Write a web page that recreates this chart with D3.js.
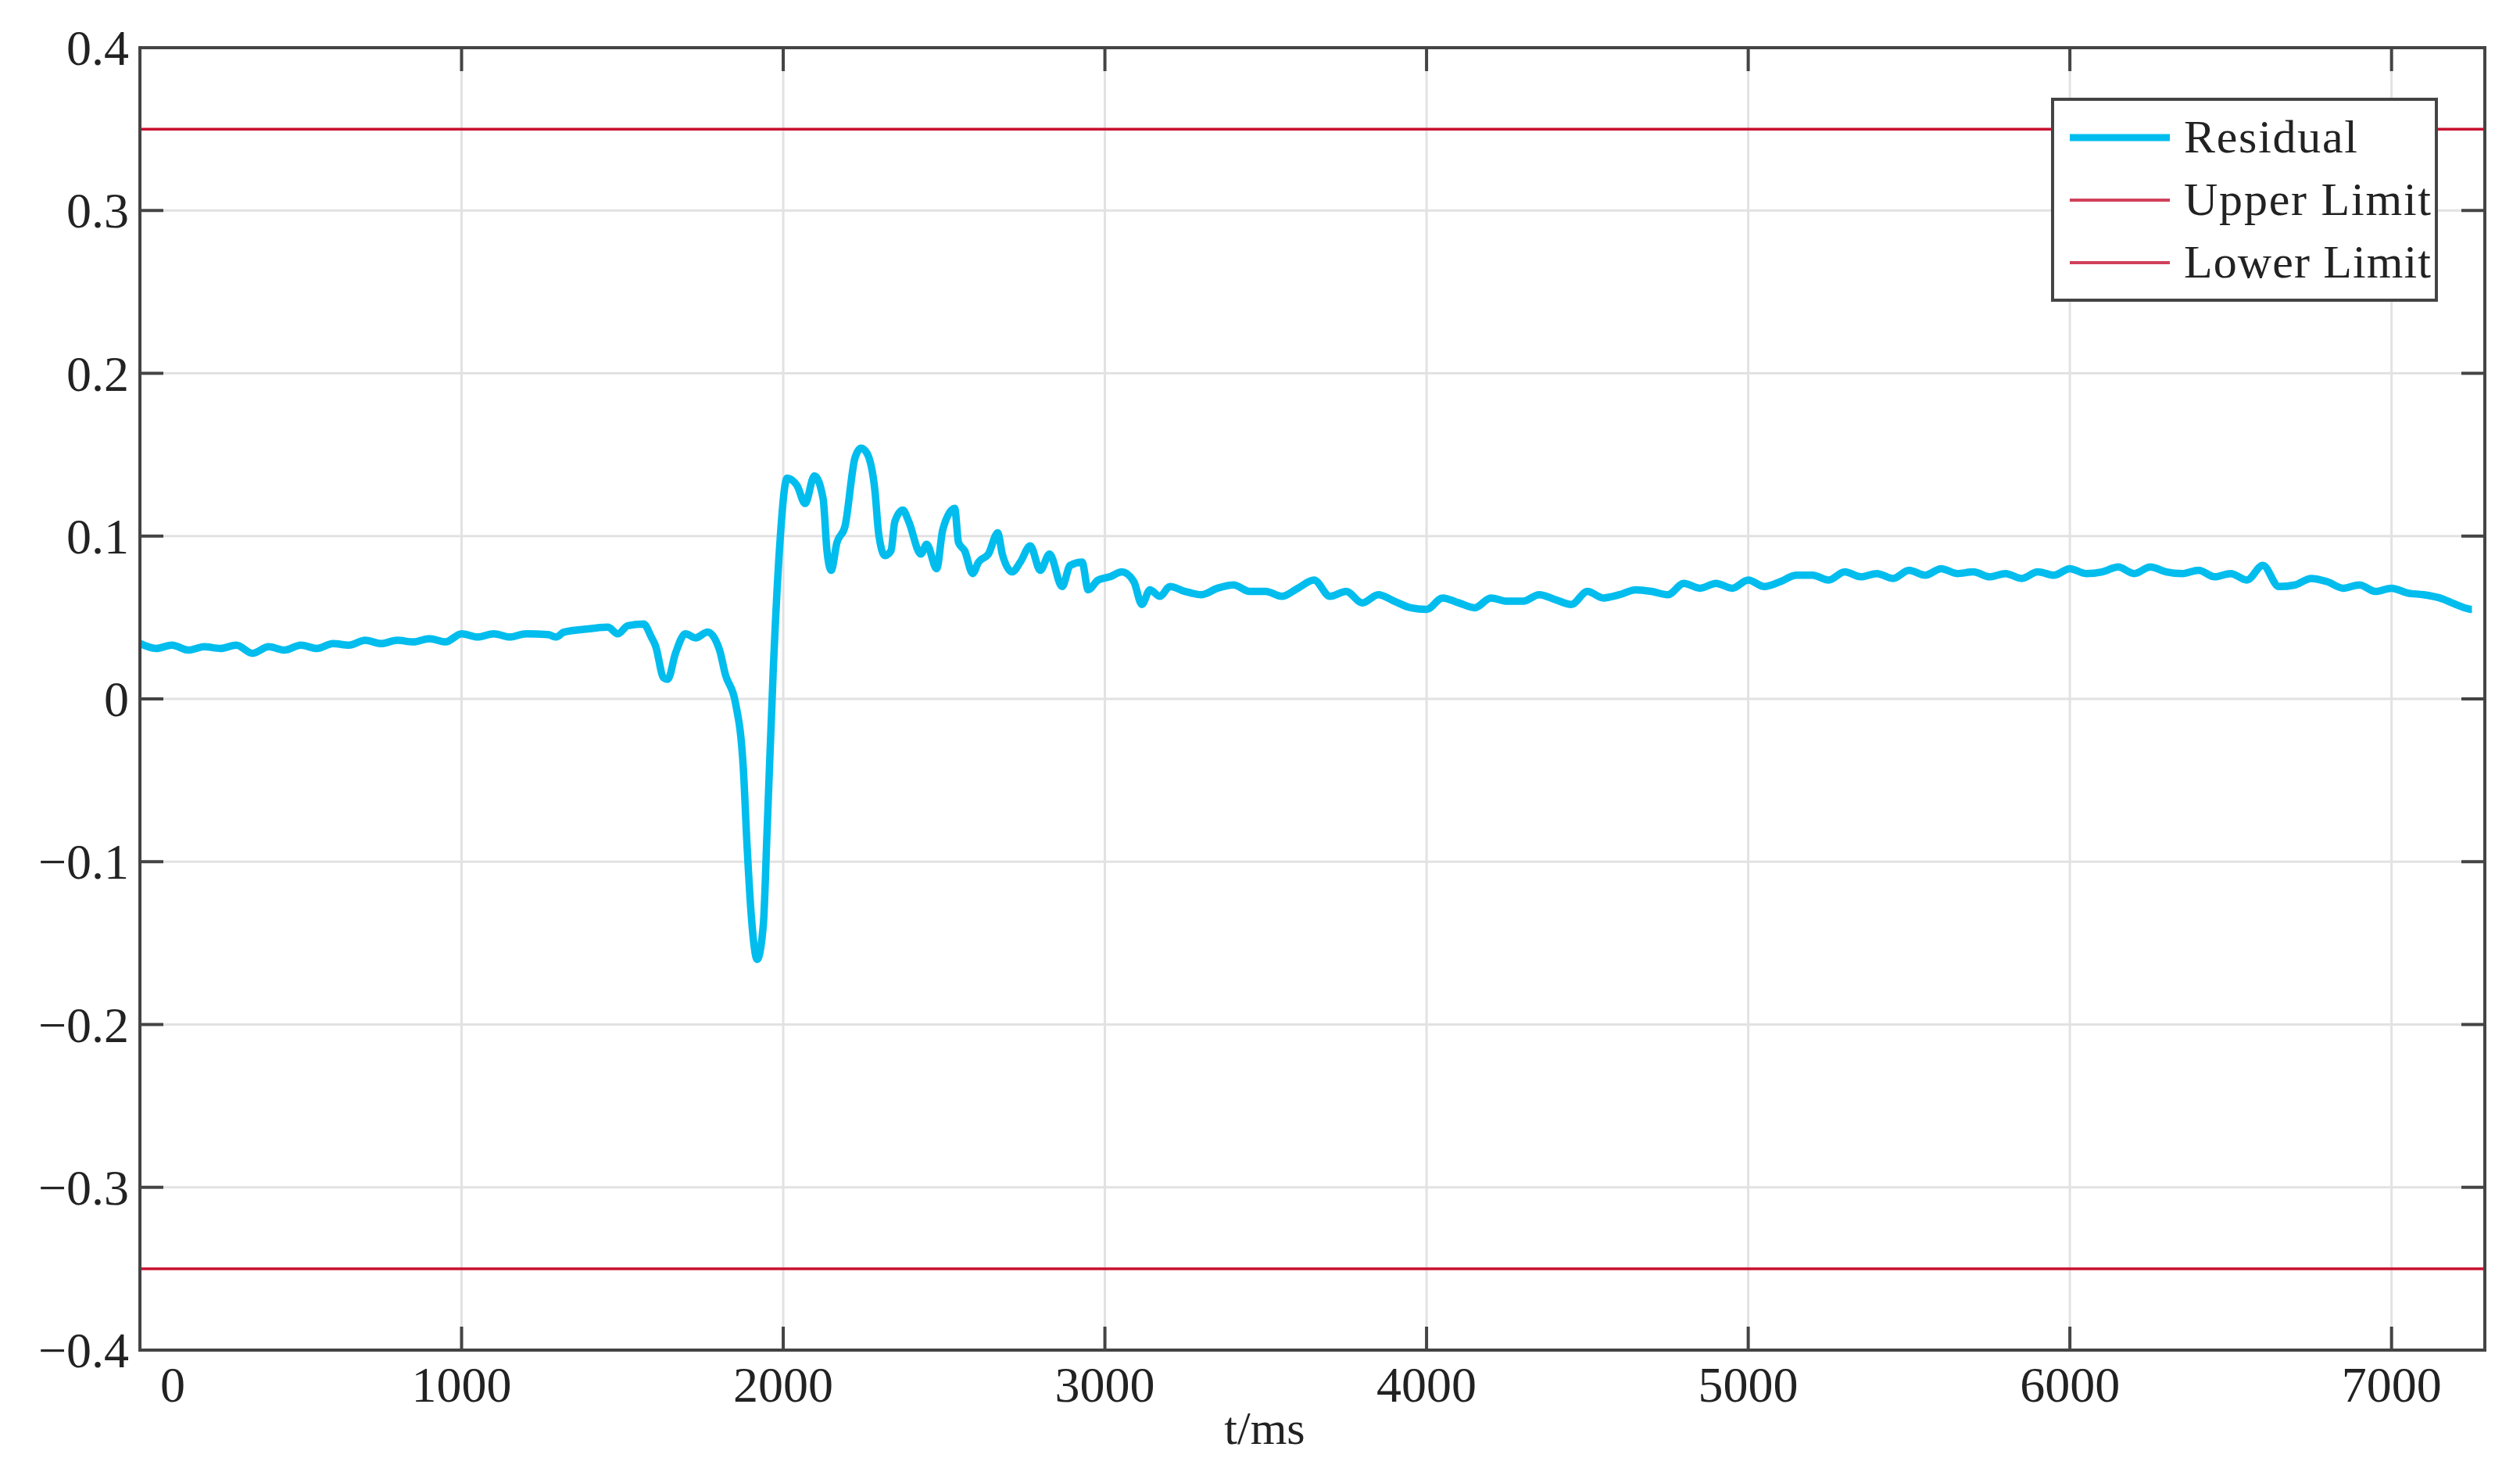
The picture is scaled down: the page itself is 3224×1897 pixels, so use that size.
<!DOCTYPE html>
<html><head><meta charset="utf-8">
<script src="https://cdn.jsdelivr.net/npm/d3@7"></script>
<style>body{margin:0;background:#fff}text{font-family:"Liberation Serif","DejaVu Serif",serif;fill:#222}</style>
</head><body><svg id="c" width="3224" height="1897"></svg>
<script>
const timeMs = [0,50,100,150,200,250,300,350,400,450,500,550,600,650,700,750,800,850,900,950,1000,1050,1100,1150,1200,1269,1294,1318,1393,1455,1486,1517,1566,1591,1603,1628,1641,1665,1696,1727,1765,1802,1820,1851,1876,1888,1901,1919,1938,1950,1969,1988,2012,2043,2068,2097,2124,2136,2149,2167,2192,2223,2242,2260,2285,2297,2316,2335,2347,2372,2390,2428,2446,2477,2496,2533,2545,2564,2589,2607,2638,2667,2681,2712,2737,2768,2799,2828,2867,2892,2929,2948,2979,3016,3053,3090,3115,3140,3171,3202,3250,3300,3350,3400,3450,3500,3550,3600,3650,3700,3750,3800,3850,3900,3950,4000,4050,4100,4150,4200,4250,4300,4350,4400,4450,4500,4550,4600,4650,4700,4750,4800,4850,4900,4950,5000,5050,5100,5150,5200,5250,5300,5350,5400,5450,5500,5550,5600,5650,5700,5750,5800,5850,5900,5950,6000,6050,6100,6150,6200,6250,6300,6350,6400,6450,6500,6550,6600,6650,6700,6750,6800,6850,6900,6950,7000,7050,7100,7150,7200,7250,7290];
const residual = [0.034,0.031,0.033,0.030,0.032,0.031,0.033,0.028,0.032,0.030,0.033,0.031,0.034,0.033,0.036,0.034,0.036,0.035,0.037,0.035,0.040,0.038,0.040,0.038,0.040,0.0395,0.038,0.041,0.043,0.044,0.040,0.045,0.046,0.0375,0.0326,0.013,0.012,0.028,0.040,0.0375,0.041,0.030,0.015,-0.002,-0.043,-0.092,-0.134,-0.160,-0.139,-0.080,0.018,0.091,0.1355,0.131,0.120,0.137,0.123,0.091,0.079,0.096,0.106,0.148,0.154,0.151,0.128,0.101,0.088,0.091,0.109,0.116,0.109,0.089,0.095,0.080,0.104,0.117,0.096,0.091,0.077,0.084,0.089,0.102,0.089,0.078,0.084,0.094,0.079,0.089,0.069,0.082,0.084,0.067,0.073,0.075,0.078,0.072,0.058,0.067,0.063,0.069,0.066,0.064,0.068,0.070,0.066,0.066,0.063,0.068,0.073,0.063,0.066,0.059,0.064,0.060,0.056,0.055,0.062,0.059,0.056,0.062,0.060,0.060,0.064,0.061,0.058,0.066,0.062,0.064,0.067,0.066,0.064,0.071,0.068,0.071,0.068,0.073,0.069,0.072,0.076,0.076,0.073,0.078,0.075,0.077,0.074,0.079,0.076,0.080,0.077,0.078,0.075,0.077,0.074,0.078,0.076,0.080,0.077,0.078,0.081,0.077,0.081,0.078,0.077,0.079,0.075,0.077,0.073,0.082,0.069,0.070,0.074,0.072,0.068,0.070,0.066,0.068,0.065,0.064,0.062,0.058,0.055];
const upperLimit = 0.35, lowerLimit = -0.35;
const xTicks = [0,1000,2000,3000,4000,5000,6000,7000];
const yTicks = [-0.4,-0.3,-0.2,-0.1,0,0.1,0.2,0.3,0.4];
const yLabels = ["\u22120.4","\u22120.3","\u22120.2","\u22120.1","0","0.1","0.2","0.3","0.4"];

const svg = d3.select("#c");
const L=179,R=3179,T=61,B=1727;
const x = d3.scaleLinear().domain([0,7290]).range([L,R]);
const y = d3.scaleLinear().domain([-0.4,0.4]).range([B,T]);
const g = svg.append("g");
g.selectAll(".gx").data(xTicks.slice(1)).enter().append("line").attr("x1",d=>x(d)).attr("x2",d=>x(d)).attr("y1",T).attr("y2",B).attr("stroke","#e2e2e2").attr("stroke-width",3);
g.selectAll(".gy").data(yTicks).enter().append("line").attr("x1",L).attr("x2",R).attr("y1",d=>y(d)).attr("y2",d=>y(d)).attr("stroke","#e2e2e2").attr("stroke-width",3);
[upperLimit,lowerLimit].forEach(v=>g.append("line").attr("x1",L).attr("x2",R).attr("y1",y(v)).attr("y2",y(v)).attr("stroke","#c8102e").attr("stroke-width",3.5));
const pts = timeMs.map((t,i)=>[t,residual[i]]);
g.append("path").datum(pts).attr("d",d3.line().x(d=>x(d[0])).y(d=>y(d[1])).curve(d3.curveMonotoneX))
 .attr("fill","none").attr("stroke","#00bdee").attr("stroke-width",9.5).attr("stroke-linejoin","round");
g.append("rect").attr("x",L).attr("y",T).attr("width",R-L).attr("height",B-T).attr("fill","none").attr("stroke","#444").attr("stroke-width",4);
const tl=30;
xTicks.forEach(d=>{ g.append("line").attr("x1",x(d)).attr("x2",x(d)).attr("y1",B).attr("y2",B-tl).attr("stroke","#444").attr("stroke-width",4);
 g.append("line").attr("x1",x(d)).attr("x2",x(d)).attr("y1",T).attr("y2",T+tl).attr("stroke","#444").attr("stroke-width",4);});
yTicks.forEach(d=>{ g.append("line").attr("x1",L).attr("x2",L+tl).attr("y1",y(d)).attr("y2",y(d)).attr("stroke","#444").attr("stroke-width",4);
 g.append("line").attr("x1",R).attr("x2",R-tl).attr("y1",y(d)).attr("y2",y(d)).attr("stroke","#444").attr("stroke-width",4);});
g.selectAll(".xl").data(xTicks).enter().append("text").attr("x",d=>d===0?x(d)+42:x(d)).attr("y",B+66).attr("text-anchor","middle").attr("font-size",64).text(d=>d);
g.selectAll(".yl").data(yTicks).enter().append("text").attr("x",L-14).attr("y",d=>y(d)+22).attr("text-anchor","end").attr("font-size",64).text((d,i)=>yLabels[i]);
g.append("text").attr("x",1618).attr("y",B+120).attr("text-anchor","middle").attr("font-size",60).text("t/ms");
const lg = g.append("g");
lg.append("rect").attr("x",2626).attr("y",127).attr("width",491).attr("height",257).attr("fill","#fff").attr("stroke","#444").attr("stroke-width",4);
const items=[["Residual","#00bdee",9],["Upper Limit","#d0405a",4],["Lower Limit","#d0405a",4]];
items.forEach((it,i)=>{const cy=176+i*80;
 lg.append("line").attr("x1",2648).attr("x2",2776).attr("y1",cy).attr("y2",cy).attr("stroke",it[1]).attr("stroke-width",it[2]);
 lg.append("text").attr("x",2794).attr("y",cy+19).attr("font-size",60).attr("textLength",it[0]==="Residual"?222:316).text(it[0]);});
</script></body></html>
